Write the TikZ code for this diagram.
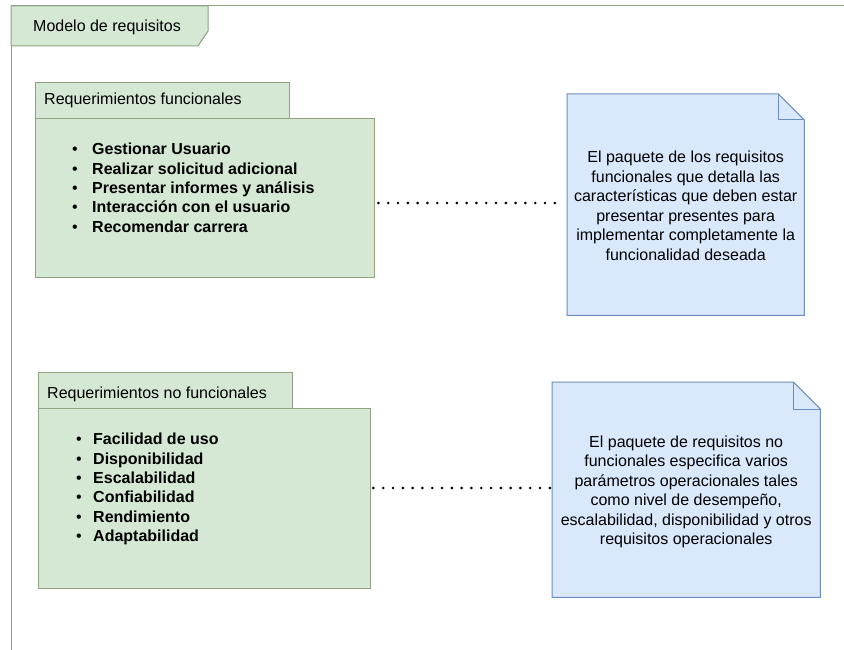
\documentclass[tikz,border=0pt]{standalone}
\usepackage{fontspec}
\setmainfont{Liberation Sans}
\begin{document}
\begin{tikzpicture}[x=1pt,y=-1pt,
  pkgfill/.style={fill=gfill,draw=gstroke,line width=1pt},
  notebox/.style={inner sep=0pt,align=center,font=\fontsize{16}{19.5}\selectfont},
  noteshape/.style={fill=bfill,draw=bstroke,line width=1pt},
  tabtext/.style={inner sep=0pt,anchor=west,font=\fontsize{16}{19.2}\selectfont},
  listtext/.style={inner sep=0pt,anchor=north west,align=left,font=\fontsize{16}{19.4}\selectfont},
  dotline/.style={line width=2.9pt,dash pattern=on 0pt off 9.8pt,line cap=round,draw=black}]
\definecolor{gfill}{HTML}{D5E8D4}
\definecolor{gstroke}{HTML}{8FA383}
\definecolor{bfill}{HTML}{DAE8FC}
\definecolor{bstroke}{HTML}{6C8EBF}
\useasboundingbox (0,0) rectangle (844,650);
\fill[white] (0,0) rectangle (844,650);
% outer frame
\draw[gstroke,line width=1pt] (844,6) -- (11,6) -- (11,650);
\draw[pkgfill] (11,6) -- (208,6) -- (208,31) -- (198,46) -- (11,46) -- cycle;
\node[tabtext] (title) at (33,27) {Modelo de requisitos};

% package 1
\draw[pkgfill] (35,83) rectangle (289,119);
\node[tabtext] (p1tab) at (44,100) {Requerimientos funcionales};
\draw[pkgfill] (35,119) rectangle (374,277);
\node[inner sep=0pt,minimum width=339pt,minimum height=158pt,anchor=north west] (p1) at (35,119) {};
\node[listtext] (p1list) at (72,143) {%
\makebox[20pt][l]{\textbullet}\textbf{Gestionar Usuario}\\
\makebox[20pt][l]{\textbullet}\textbf{Realizar solicitud adicional}\\
\makebox[20pt][l]{\textbullet}\textbf{Presentar informes y análisis}\\
\makebox[20pt][l]{\textbullet}\textbf{Interacción con el usuario}\\
\makebox[20pt][l]{\textbullet}\textbf{Recomendar carrera}};

% note 1
\node[inner sep=0pt,minimum width=237pt,minimum height=221pt,anchor=north west] (n1) at (567,94) {};
\draw[noteshape]
  (n1.north west) -- ([xshift=-26pt]n1.north east) -- ([yshift=-26pt]n1.north east) -- (n1.south east) -- (n1.south west) -- cycle;
\draw[draw=bstroke,line width=1pt] ([xshift=-26pt]n1.north east) -- ([xshift=-26pt,yshift=-26pt]n1.north east) -- ([yshift=-26pt]n1.north east);
\node[notebox] (n1text) at ([yshift=-1pt]n1.center) {%
El paquete de los requisitos\\
funcionales que detalla las\\
características que deben estar\\
presentar presentes para\\
implementar completamente la\\
funcionalidad deseada};

% package 2
\draw[pkgfill] (38,372) rectangle (292,408);
\node[tabtext] (p2tab) at (47,394) {Requerimientos no funcionales};
\draw[pkgfill] (38,408) rectangle (370,588);
\node[inner sep=0pt,minimum width=332pt,minimum height=180pt,anchor=north west] (p2) at (38,408) {};
\node[listtext] (p2list) at (76,433) {%
\makebox[17pt][l]{\textbullet}\textbf{Facilidad de uso}\\
\makebox[17pt][l]{\textbullet}\textbf{Disponibilidad}\\
\makebox[17pt][l]{\textbullet}\textbf{Escalabilidad}\\
\makebox[17pt][l]{\textbullet}\textbf{Confiabilidad}\\
\makebox[17pt][l]{\textbullet}\textbf{Rendimiento}\\
\makebox[17pt][l]{\textbullet}\textbf{Adaptabilidad}};

% note 2
\node[inner sep=0pt,minimum width=268pt,minimum height=215pt,anchor=north west] (n2) at (552,382) {};
\draw[noteshape]
  (n2.north west) -- ([xshift=-27pt]n2.north east) -- ([yshift=-27pt]n2.north east) -- (n2.south east) -- (n2.south west) -- cycle;
\draw[draw=bstroke,line width=1pt] ([xshift=-27pt]n2.north east) -- ([xshift=-27pt,yshift=-27pt]n2.north east) -- ([yshift=-27pt]n2.north east);
\node[notebox] (n2text) at ([yshift=-2pt]n2.center) {%
El paquete de requisitos no\\
funcionales especifica varios\\
parámetros operacionales tales\\
como nivel de desempeño,\\
escalabilidad, disponibilidad y otros\\
requisitos operacionales};

% connectors
\draw[dotline,shorten <=4pt,shorten >=7pt] (p1.east |- 0,203) -- (n1.west |- 0,203);
\draw[dotline,shorten <=3pt,shorten >=1pt] (p2.east |- 0,488) -- (n2.west |- 0,488);
\end{tikzpicture}
\end{document}
